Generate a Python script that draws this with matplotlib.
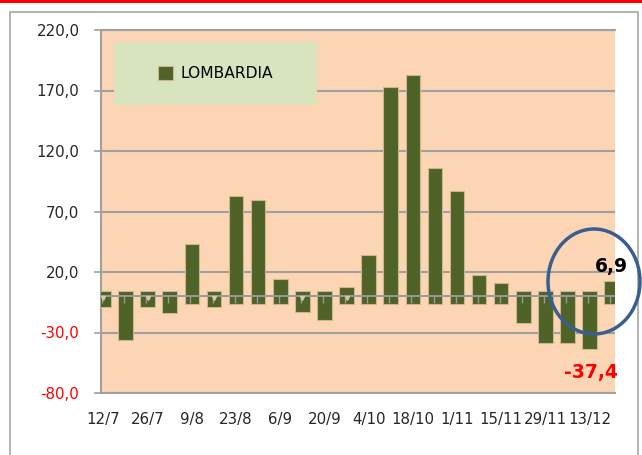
import numpy as np
import matplotlib
matplotlib.use('Agg')
import matplotlib.pyplot as plt
from matplotlib.patches import Rectangle, Ellipse

# weekly values, Lombardia
dates = ['12/7', '19/7', '26/7', '2/8', '9/8', '16/8', '23/8', '30/8',
         '6/9', '13/9', '20/9', '27/9', '4/10', '11/10', '18/10', '25/10',
         '1/11', '8/11', '15/11', '22/11', '29/11', '6/12', '13/12', '20/12']
values = [-3.0, -30.0, -3.0, -7.9, 37.4, -3.0, 77.4, 73.5,
          8.3, -6.9, -13.3, 1.7, 28.6, 167.2, 177.4, 100.5,
          81.2, 11.8, 5.5, -15.7, -32.5, -32.5, -37.4, 6.9]
marked = [0, 2, 5, 9, 11]
yticks = [-80, -30, 20, 70, 120, 170, 220]

W, H = 642, 455
plt.rcParams['font.family'] = 'DejaVu Sans'

fig = plt.figure(figsize=(W / 100, H / 100), dpi=100)
ax = fig.add_axes([101 / W, 1 - 393 / H, 514 / W, 363 / H])
ax.set_facecolor('#fcd5b5')

x = np.arange(len(values))
v = np.array(values)
# excel draws the bars overhanging the zero line on both ends
bottom = np.where(v >= 0, -6.5, 4.5)
top = np.where(v >= 0, v + 5.7, v - 6.2)
bars = ax.bar(x, top - bottom, bottom=bottom, width=0.66, color='#4f6228',
              edgecolor='#c8b98c', linewidth=0.8, zorder=3, label='LOMBARDIA')

ax.axhline(0, color='#9a9a9a', lw=1.4, zorder=4)
ax.vlines(x - 0.06, -5.5, 0, color='#9a9a9a', lw=1, zorder=4)
ax.plot(x[marked], np.zeros(len(marked)) - 1.5, 'v', color='#d9c8a2',
        markersize=2.8, zorder=5, linestyle='none')

ax.set_xlim(-0.11, 23.15)
ax.set_ylim(-80, 220)
ax.set_yticks(yticks)
ax.set_yticklabels([('%.1f' % t).replace('.', ',') for t in yticks], fontsize=10.8)
for lab, t in zip(ax.get_yticklabels(), yticks):
    lab.set_color('red' if t < 0 else '#262626')
ax.yaxis.grid(True, color='#a0a0a0', lw=1.5)
ax.set_axisbelow(True)
ax.tick_params(axis='y', length=5, width=1.2, color='#a0a0a0', pad=10.5)

ax.set_xticks(x[::2])
ax.set_xticklabels(dates[::2], fontsize=10.8, color='#262626')
ax.tick_params(axis='x', length=0, pad=14)

for s in ['left', 'bottom', 'top']:
    ax.spines[s].set_color('#a0a0a0')
    ax.spines[s].set_linewidth(1.5)
ax.spines['right'].set_visible(False)

# legend box
box = (0.0253, 0.793, 0.395, 0.174)
ax.add_patch(Rectangle(box[:2], box[2], box[3], transform=ax.transAxes,
                       facecolor='#d7e4bd', edgecolor='none', zorder=6))
leg = ax.legend(handles=[bars], loc='center', bbox_to_anchor=box, frameon=False,
                fontsize=11.2, handlelength=1.0, handleheight=1.0, handletextpad=0.45)
leg.set_zorder(7)

# annotations
fig.add_artist(Ellipse((594 / W, 1 - 281.5 / H), 92 / W, 105 / H, fill=False,
                       edgecolor='#3a5f8f', lw=2.5, zorder=10))
fig.text(611 / W, 1 - 271.7 / H, '6,9', ha='center', va='baseline',
         fontsize=13.5, fontweight='bold', color='black', zorder=11)
fig.text(591 / W, 1 - 378.3 / H, '-37,4', ha='center', va='baseline',
         fontsize=13.5, fontweight='bold', color='red', zorder=11)

# chart frame and red top rule
fig.add_artist(Rectangle((10 / W, -0.1), 628 / W, 1.1 - 12 / H, fill=False,
                         edgecolor='#a6a6a6', lw=1.2))
fig.add_artist(Rectangle((0, 1 - 3 / H), 1, 3 / H, facecolor='red', edgecolor='none'))

fig.savefig('out.png', dpi=100)
